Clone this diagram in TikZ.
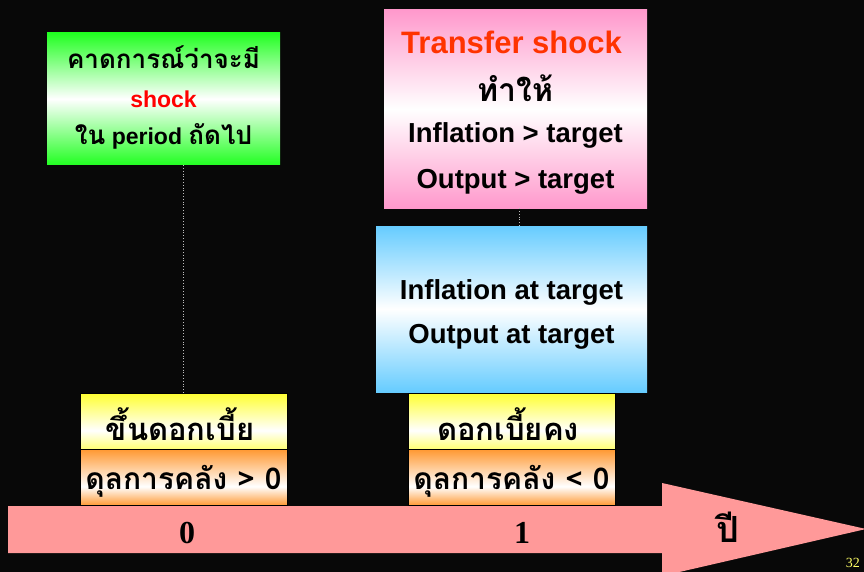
\documentclass[tikz,border=0pt]{standalone}
\usepackage{fontspec}
\setmainfont{Liberation Sans}
\newfontfamily\thai[Script=Thai]{Loma}
\newfontfamily\timesf{Liberation Serif}
\usetikzlibrary{positioning}

\definecolor{bg}{HTML}{080808}
\definecolor{grn}{HTML}{22FF22}
\definecolor{pnk}{HTML}{FF99CC}
\definecolor{sky}{HTML}{66CCFF}
\definecolor{yel}{HTML}{FFFF33}
\definecolor{org}{HTML}{FF9933}
\definecolor{salmon}{HTML}{FF9999}
\definecolor{ttl}{HTML}{FF3300}
\definecolor{pgnum}{HTML}{FFFF66}

% light at about two thirds down, strong colour at the top edge
\pgfdeclareverticalshading{yelshade}{100bp}{color(0bp)=(yel); color(25bp)=(yel!70!white); color(42bp)=(white); color(75bp)=(yel); color(100bp)=(yel)}
\pgfdeclareverticalshading{orgshade}{100bp}{color(0bp)=(org); color(25bp)=(org); color(42bp)=(white); color(75bp)=(org); color(100bp)=(org)}

\tikzset{
  panel/.style={inner sep=0pt, align=center, font=\bfseries},
  greenbox/.style={panel, top color=grn, bottom color=grn, middle color=white},
  pinkbox/.style={panel, top color=pnk, bottom color=pnk, middle color=white},
  bluebox/.style={panel, top color=sky, bottom color=sky, middle color=white},
  yelbox/.style={panel, draw=black, line width=0.6pt, shading=yelshade},
  orgbox/.style={panel, draw=black, line width=0.6pt, shading=orgshade},
  guide/.style={draw=white!75!black, dotted, line width=0.8pt},
  axislabel/.style={font=\timesf\bfseries\fontsize{32}{34}\selectfont},
  thaitext/.style={font=\thai\bfseries\fontsize{#1}{#1}\selectfont},
  engtext/.style={font=\bfseries\fontsize{#1}{#1}\selectfont}
}

\begin{document}
\begin{tikzpicture}[x=1pt,y=-1pt]
\useasboundingbox[fill=bg] (0,0) rectangle (864,572);

% time axis arrow
\fill[salmon] (8,506) -- (662,506) -- (662,483) -- (866,529) -- (662,576) -- (662,553) -- (8,553) -- cycle;
\node[axislabel] (t0) at (187,533) {0};
\node[axislabel] (t1) at (522,533) {1};
\node[thaitext=36] (year) at (728,527) {ปี};

% expectation box
\node[greenbox, minimum width=233pt, minimum height=132pt] (expect) at (163.5,99) {};
\node[thaitext=26] (e1) at (163.5,57) {คาดการณ์ว่าจะมี};
\node[engtext=23, text=red] (e2) at (163.5,99) {shock};
\node[engtext=23] (e3) at (163.5,136) {{\thai\fontsize{26}{26}\selectfont ใน} period {\thai\fontsize{26}{26}\selectfont ถัดไป}};

% transfer shock box
\node[pinkbox, minimum width=263pt, minimum height=198pt] (transfer) at (515.5,109) {};
\node[engtext=31, text=ttl] (p1) at (511.5,42) {Transfer shock};
\node[thaitext=32] (p2) at (515.5,88) {ทำให้};
\node[engtext=27.5] (p3) at (515.5,135) {Inflation > target};
\node[engtext=27.5] (p4) at (515.5,182) {Output > target};

% on-target box
\node[bluebox, minimum width=271pt, minimum height=166pt] (ontarget) at (511.5,309) {};
\node[engtext=27.5] (b1) at (511.5,292) {Inflation at target};
\node[engtext=27.5] (b2) at (511.5,337) {Output at target};

% policy boxes, year 0
\node[yelbox, minimum width=207pt, minimum height=56pt] (rate0) at (183.5,421.5) {};
\node[thaitext=31] (r0) at (180,424) {ขึ้นดอกเบี้ย};
\node[orgbox, minimum width=207pt, minimum height=56pt] (fisc0) at (183.5,477.5) {};
\node[thaitext=30] (f0) at (183.5,481) {ดุลการคลัง > 0};

% policy boxes, year 1
\node[yelbox, minimum width=207pt, minimum height=56pt] (rate1) at (511.5,421.5) {};
\node[thaitext=31] (r1) at (508,424) {ดอกเบี้ยคง};
\node[orgbox, minimum width=207pt, minimum height=56pt] (fisc1) at (511.5,477.5) {};
\node[thaitext=30] (f1) at (511.5,481) {ดุลการคลัง < 0};

% guide lines
\draw[guide] (expect.south -| rate0.north) -- (rate0.north);
\draw[guide] (transfer.south -| 519,0) -- (ontarget.north -| 519,0);

% slide number
\node[anchor=south east, inner sep=0pt, text=pgnum, font=\timesf\fontsize{14}{14}\selectfont] (pg) at (860,568) {32};
\end{tikzpicture}
\end{document}
